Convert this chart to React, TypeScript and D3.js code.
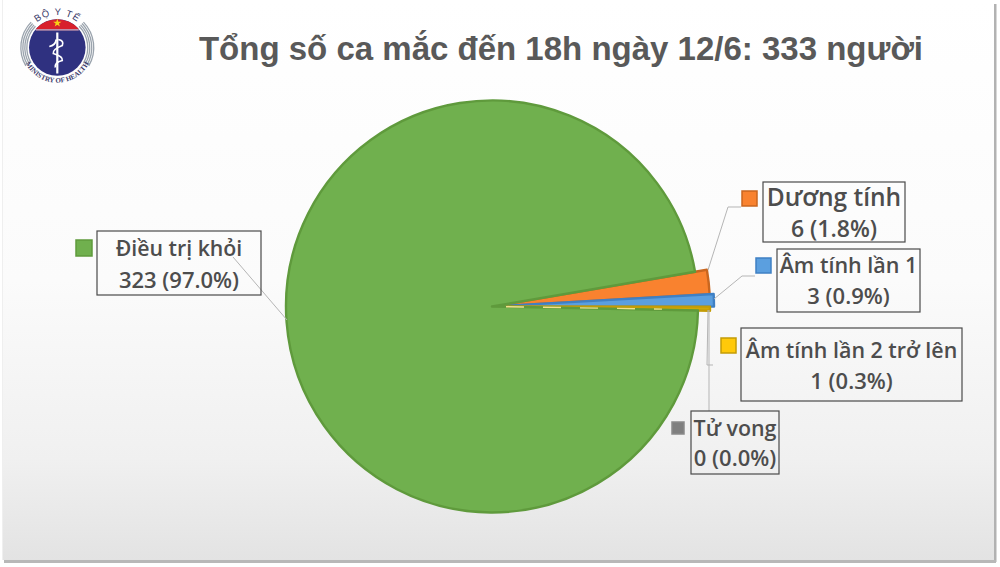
import { useMemo } from "react";
import * as d3 from "d3";

const categories = ["Dương tính", "Âm tính lần 1", "Âm tính lần 2 trở lên", "Tử vong", "Điều trị khỏi"];
const values = [6, 3, 1, 0, 323];
const valueLabels = ["6 (1.8%)", "3 (0.9%)", "1 (0.3%)", "0 (0.0%)", "323 (97.0%)"];
const titleText = "Tổng số ca mắc đến 18h ngày 12/6: 333 người";

const fills = ["#f9822f", "#5b9fdf", "#d0a808", "#7f7f7f", "#70b04e"];
const keyFills = ["#f9822f", "#5b9fdf", "#ffc90a", "#7f7f7f", "#70b04e"];
const strokes = ["#c9661f", "#3f80c4", "#c49c06", "#8a8a8a", "#5f9a3c"];

// how far each wedge sticks out of the pie
const radii = [218, 222, 218, 170, 206];

// label boxes: x, y, w, h, two text baselines; key: x, y, size; leader polyline
const boxes = [
  { x: 763, y: 182, w: 142, h: 60, base: [206, 236.5], key: [742, 191, 15], fs: [24.5, 23], line: [[708, 270], [728, 207], [741, 207]] },
  { x: 777, y: 249, w: 143, h: 63, base: [273, 304], key: [756, 258, 15], fs: [21.5, 22], line: [[714, 299], [742, 276], [755, 276]] },
  { x: 741, y: 328, w: 221, h: 73, base: [358, 389], key: [721, 338, 15], fs: [21.4, 22], line: [[708, 310], [707, 365], [713, 365]] },
  { x: 691, y: 411, w: 88, h: 63, base: [436, 466], key: [672, 422, 12], fs: [21.4, 22], line: [[709, 310], [709, 411]] },
  { x: 97, y: 231, w: 164, h: 64, base: [256, 288], key: [76, 240, 16], fs: [21.3, 22], line: [[287, 320], [233, 257]] },
];

const cx = 492;
const cy = 306.5;
const labelFont = "'Open Sans', 'Noto Sans', sans-serif";

function Logo() {
  const lx = 57.3;
  const ly = 47.5;
  const r = 28.3;
  const chordY = ly - 18.5;
  const halfChord = Math.sqrt(r * r - 18.5 * 18.5);
  const ring = d3.arc();
  const ringAngles = [
    [-2.1, -0.8],
    [0.8, 2.1],
  ];
  return (
    <g>
      {ringAngles.map((a, i) =>
        [29.8, 31.8, 33.8, 35.8].map((rr) => (
          <path
            key={`${i}-${rr}`}
            transform={`translate(${lx},${ly})`}
            d={ring({ innerRadius: rr, outerRadius: rr + 1.3, startAngle: a[0], endAngle: a[1] }) ?? ""}
            fill="#9aa3ad"
          />
        ))
      )}
      <circle cx={lx} cy={ly} r={r} fill="#2f3180" />
      <path
        d={`M${lx - halfChord},${chordY} A${r},${r} 0 0 1 ${lx + halfChord},${chordY} Z`}
        fill="#d8202c"
      />
      <line x1={lx - halfChord} x2={lx + halfChord} y1={chordY + 0.8} y2={chordY + 0.8} stroke="#eeb0b8" strokeWidth={1.2} />
      <path
        transform={`translate(${lx},${ly - 24.5})`}
        d={d3.symbol(d3.symbolStar, 22)() ?? ""}
        fill="#f7d117"
      />
      <line x1={lx} x2={lx} y1={ly - 15} y2={ly + 26} stroke="#fff" strokeWidth={2.2} />
      <path
        d={`M${lx - 8},${ly - 1} Q${lx - 2},${ly - 2} ${lx - 1},${ly - 8} M${lx + 1},${ly - 8} Q${lx + 7},${ly - 7} ${lx + 5},${ly - 2} Q${lx - 5},${ly + 2} ${lx - 4},${ly + 6} Q${lx + 6},${ly + 9} ${lx + 5},${ly + 13} Q${lx - 3},${ly + 15} ${lx - 2},${ly + 20}`}
        fill="none"
        stroke="#fff"
        strokeWidth={1.7}
      />
      <defs>
        <path id="logoTop" d={`M${lx - 26},${ly - 19} A32,32 0 0 1 ${lx + 26},${ly - 19}`} />
        <path id="logoBottom" d={`M${lx - 31},${ly + 17} A35.5,35.5 0 0 0 ${lx + 31},${ly + 17}`} />
      </defs>
      <text fontFamily="'Liberation Sans', sans-serif" fontSize={9.5} letterSpacing={1} fill="#3a3a6a">
        <textPath href="#logoTop" startOffset="50%" textAnchor="middle">BỘ Y TẾ</textPath>
      </text>
      <text fontFamily="'Liberation Serif', serif" fontSize={7} fontWeight={700} fill="#3a3a6a">
        <textPath href="#logoBottom" startOffset="50%" textAnchor="middle">MINISTRY OF HEALTH</textPath>
      </text>
    </g>
  );
}

export default function App() {
  const slices = useMemo(() => {
    const start = (80.3 * Math.PI) / 180;
    const pie = d3
      .pie<number>()
      .sort(null)
      .startAngle(start)
      .endAngle(start + 2 * Math.PI);
    return pie(values);
  }, []);

  const arc = d3.arc<d3.PieArcDatum<number>>().innerRadius(0);
  // green last, its dark edge runs along the small wedges
  const drawOrder = [0, 1, 2, 4];

  // the zero slice only shows as a pale dashed edge
  const zeroEdge = d3
    .lineRadial<number>()
    .angle(slices[3].startAngle - 0.004)
    .radius((d) => d)([14, radii[3]]);

  return (
    <svg
      width={1000}
      height={567}
      viewBox="0 0 1000 567"
      style={{ position: "fixed", left: 0, top: 0, display: "block" }}
    >
      <defs>
        <linearGradient id="bg" x1="0" y1="0" x2="0" y2="1">
          <stop offset="0%" stopColor="#ffffff" />
          <stop offset="50%" stopColor="#fbfbfb" />
          <stop offset="82%" stopColor="#f0f0f0" />
          <stop offset="100%" stopColor="#e3e3e3" />
        </linearGradient>
      </defs>
      <rect width={1000} height={567} fill="#ffffff" />
      <rect x={994} y={4} width={2.5} height={558} fill="#b2b2b2" />
      <rect x={4} y={560} width={992} height={3} fill="#b8b8b8" />
      <rect x={2} y={0} width={1.5} height={560} fill="#efefef" />
      <rect x={3} y={0} width={991} height={560} fill="url(#bg)" />
      <Logo />
      <text
        x={561}
        y={59.5}
        textAnchor="middle"
        fontFamily="'Liberation Sans', Arial, sans-serif"
        fontWeight={700}
        fontSize={33}
        fill="#595959"
      >
        {titleText}
      </text>

      <g transform={`translate(${cx},${cy})`}>
        {drawOrder.map((i) => (
          <path
            key={categories[i]}
            d={arc.outerRadius(radii[i])(slices[i]) ?? ""}
            fill={fills[i]}
            stroke={strokes[i]}
            strokeWidth={2.4}
            strokeLinejoin="round"
          />
        ))}
        <path d={zeroEdge ?? ""} fill="none" stroke="#f3e08a" strokeWidth={1.4} strokeDasharray="18 19" />
      </g>

      {boxes.map((b, i) => (
        <g key={categories[i]}>
          <polyline
            points={b.line.map((p) => p.join(",")).join(" ")}
            fill="none"
            stroke="#b5b5b5"
            strokeWidth={1}
          />
          <rect x={b.x} y={b.y} width={b.w} height={b.h} fill="none" stroke="#4a4a4a" strokeWidth={1.2} />
          <rect
            x={b.key[0]}
            y={b.key[1]}
            width={b.key[2]}
            height={b.key[2]}
            fill={keyFills[i]}
            stroke={strokes[i]}
            strokeWidth={1.5}
          />
          <text textAnchor="middle" fontFamily={labelFont} fontWeight={600} fill="#4d4d4d">
            <tspan x={b.x + b.w / 2} y={b.base[0]} fontSize={b.fs[0]}>{categories[i]}</tspan>
            <tspan x={b.x + b.w / 2} y={b.base[1]} fontSize={b.fs[1]}>{valueLabels[i]}</tspan>
          </text>
        </g>
      ))}
    </svg>
  );
}
